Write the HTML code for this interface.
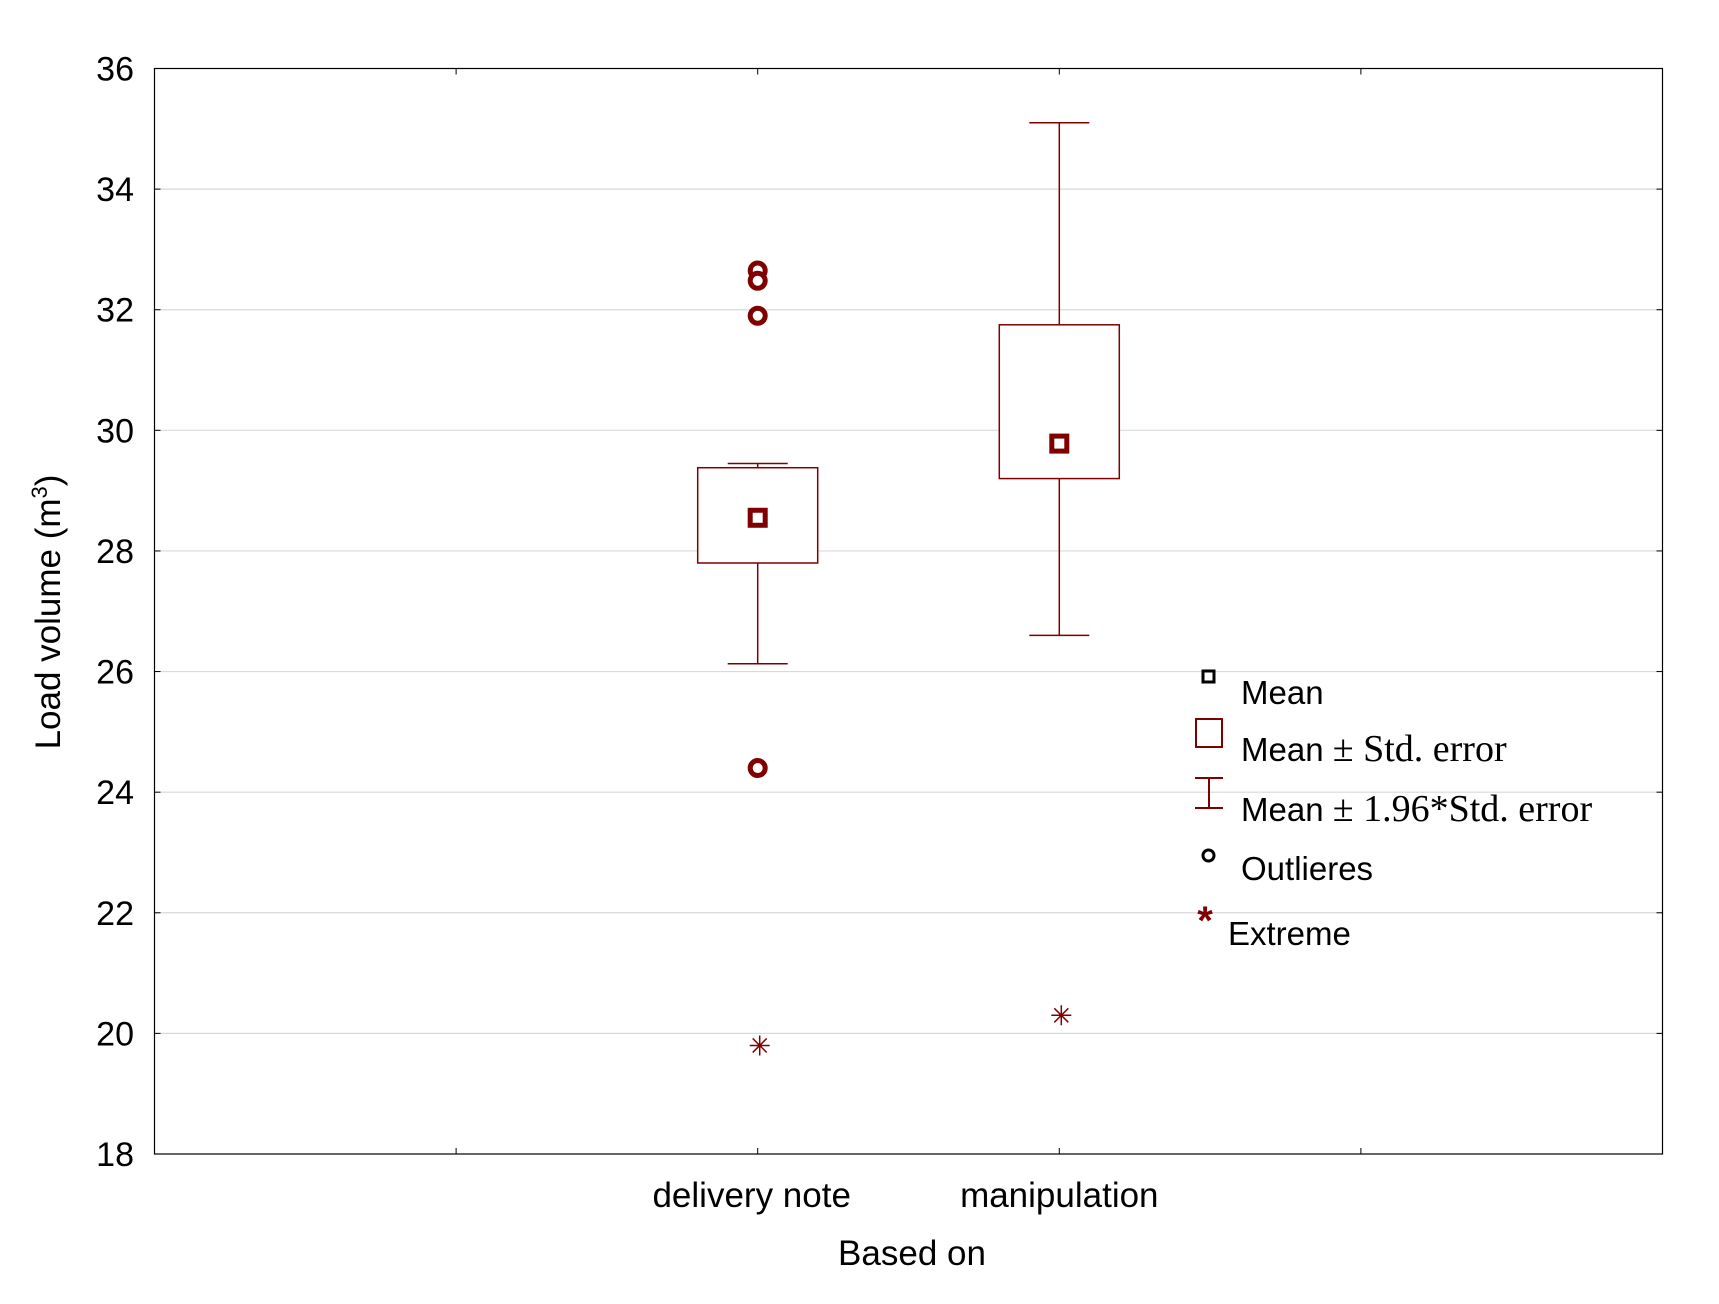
<!DOCTYPE html>
<html><head><meta charset="utf-8"><style>
html,body{margin:0;padding:0;background:#fff;}
svg text{font-family:"Liberation Sans",sans-serif;}
</style></head><body>
<svg id="chart" width="1719" height="1299" viewBox="0 0 1719 1299" xmlns="http://www.w3.org/2000/svg">
<g id="grid"></g>
<rect x="154.5" y="68.5" width="1508" height="1085.5" fill="none" stroke="#000" stroke-width="1.2"/>
<g id="axes"></g>
<g id="marks"></g>
<text transform="translate(60,612) rotate(-90)" text-anchor="middle" font-size="35">Load volume (m<tspan font-size="22" dy="-13">3</tspan><tspan dy="13">)</tspan></text>
<text x="912" y="1265" text-anchor="middle" font-size="35">Based on</text>
<g>
  <g>
    <rect x="1203" y="671" width="11" height="11" fill="none" stroke="#000" stroke-width="3"/>
    <text x="1241" y="704" font-size="33">Mean</text>
  </g>
  <g>
    <rect x="1196" y="719" width="26" height="28" fill="none" stroke="#800000" stroke-width="2"/>
    <text x="1241" y="761" font-size="33">Mean <tspan font-family="Liberation Serif, serif" font-size="38">± Std. error</tspan></text>
  </g>
  <g>
    <path d="M1195 778H1223M1209 778V808M1195 808H1223" stroke="#800000" stroke-width="2" fill="none"/>
    <text x="1241" y="821" font-size="33">Mean <tspan font-family="Liberation Serif, serif" font-size="38">± 1.96*Std. error</tspan></text>
  </g>
  <g>
    <circle cx="1208.5" cy="855.5" r="5.5" fill="none" stroke="#000" stroke-width="3"/>
    <text x="1241" y="880" font-size="33">Outlieres</text>
  </g>
  <g>
    <text x="1205" y="934" text-anchor="middle" font-size="40" font-weight="bold" fill="#800000">*</text>
    <text x="1228" y="945" font-size="33">Extreme</text>
  </g>
</g>
</svg>
<script>
const categories = ["delivery note", "manipulation"];
const means = [28.55, 29.78];
const seLow = [27.8, 29.2];
const seHigh = [29.38, 31.75];
const ciLow = [26.13, 26.6];
const ciHigh = [29.45, 35.1];
const outliers = [[32.65, 32.48, 31.9, 24.4], []];
const extremes = [[19.8], [20.3]];
const yTicks = [18, 20, 22, 24, 26, 28, 30, 32, 34, 36];

const L = 154.5, R = 1662.5, T = 68.5, B = 1154;
const yMin = 18, yMax = 36;
const nSlots = 5;
function yPos(v){ return B - (v - yMin) / (yMax - yMin) * (B - T); }
function xPos(i){ return L + (i + 2) * (R - L) / nSlots; }
const NS = "http://www.w3.org/2000/svg";
function mk(tag, attrs, parent){
  const e = document.createElementNS(NS, tag);
  for (const k in attrs) e.setAttribute(k, attrs[k]);
  parent.appendChild(e); return e;
}
const grid = document.getElementById('grid');
const axes = document.getElementById('axes');
const marks = document.getElementById('marks');

yTicks.forEach(v => {
  const y = yPos(v);
  if (v > yMin && v < yMax) {
    const g = mk('line', {x1: L, x2: R, y1: y, y2: y, stroke: '#d9d9d9', 'stroke-width': 1.2}, grid);
    
    
  }
  const t1 = mk('line', {x1: L, x2: L + 6, y1: y, y2: y, stroke: '#000'}, axes);
  
  
  const t2 = mk('line', {x1: R - 6, x2: R, y1: y, y2: y, stroke: '#000'}, axes);
  
  
  const lab = mk('text', {x: 134, y: y + 12, 'text-anchor': 'end', 'font-size': 34}, axes);
  lab.textContent = v;
  
  
});
for (let s = 1; s < nSlots; s++) {
  const x = L + s * (R - L) / nSlots;
  const t1 = mk('line', {x1: x, x2: x, y1: B, y2: B - 6, stroke: '#000'}, axes);
  
  
  const t2 = mk('line', {x1: x, x2: x, y1: T, y2: T + 6, stroke: '#000'}, axes);
  
  
}
const red = '#800000';
categories.forEach((c, i) => {
  const x = xPos(i);
  const lab = mk('text', {x: x - (i === 0 ? 6 : 0), y: 1207, 'text-anchor': 'middle', 'font-size': 35}, axes);
  lab.textContent = c;
  
  

  const w = mk('path', {d: `M${x-30} ${yPos(ciHigh[i])}H${x+30}M${x} ${yPos(ciHigh[i])}V${yPos(ciLow[i])}M${x-30} ${yPos(ciLow[i])}H${x+30}`, stroke: red, 'stroke-width': 1.5, fill: 'none'}, marks);
  
  

  const b = mk('rect', {x: x - 60, y: yPos(seHigh[i]), width: 120, height: yPos(seLow[i]) - yPos(seHigh[i]), fill: '#fff', stroke: red, 'stroke-width': 1.5}, marks);
  
  

  const m = mk('rect', {x: x - 7.5, y: yPos(means[i]) - 7.5, width: 15, height: 15, fill: '#fff', stroke: red, 'stroke-width': 5}, marks);
  
  

  outliers[i].forEach(v => {
    const o = mk('circle', {cx: x, cy: yPos(v), r: 7.5, fill: '#fff', stroke: red, 'stroke-width': 5}, marks);
    
    
  });
  extremes[i].forEach(v => {
    const y = yPos(v), ex = x + 2, r = 10;
    const e = mk('path', {d: `M${ex-r} ${y}H${ex+r}M${ex} ${y-r}V${y+r}M${ex-7} ${y-7}L${ex+7} ${y+7}M${ex-7} ${y+7}L${ex+7} ${y-7}`, stroke: red, 'stroke-width': 1.5, fill: 'none'}, marks);
    
    
  });
});
</script>
</body></html>
